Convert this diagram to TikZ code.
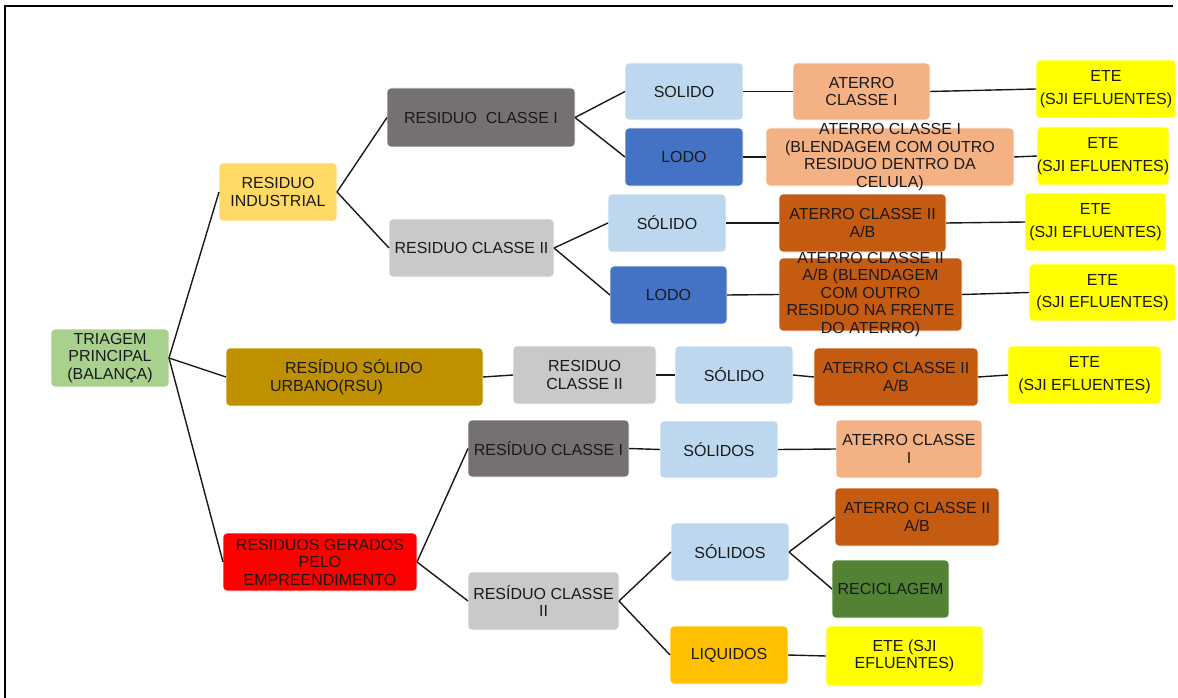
\documentclass[tikz,border=0pt]{standalone}
\usepackage{fontspec}
\setmainfont{Liberation Sans}
\definecolor{txtc}{HTML}{1A1A1A}
\definecolor{cTri}{HTML}{A9D18E}
\definecolor{cInd}{HTML}{FFD966}
\definecolor{cDark}{HTML}{767171}
\definecolor{cGrey}{HTML}{C9C9C9}
\definecolor{cSol}{HTML}{BDD7EE}
\definecolor{cLodo}{HTML}{4472C4}
\definecolor{cAtI}{HTML}{F4B183}
\definecolor{cAtII}{HTML}{C55A11}
\definecolor{cEte}{HTML}{FFFF00}
\definecolor{cRsu}{HTML}{BF9000}
\definecolor{cGer}{HTML}{FF0000}
\definecolor{cRec}{HTML}{548235}
\definecolor{cLiq}{HTML}{FFC000}
\tikzset{
 boxst/.style={rounded corners=4pt, inner sep=0pt, outer sep=0pt, draw=white, line width=0.6pt},
 txst/.style={font=\fontsize{16}{17.5}\selectfont, text=txtc, align=center, inner sep=0pt},
 lnst/.style={line width=1.4pt, draw=black!90},
}
\newcommand{\boxn}[7]{%
 \node[boxst, fill=#2, minimum width={#5pt-#3pt}, minimum height={#6pt-#4pt}] (#1) at ({(#3+#5)/2},{(#4+#6)/2}) {};
 \node[txst] (#1-t) at (#1) {#7};
}
\begin{document}
\begin{tikzpicture}[x=1pt,y=-1pt]
\useasboundingbox (0,0) rectangle (1178,698);
\draw[line width=1.2pt] (5,698) -- (5,6) -- (1173,6);

\boxn{TRI}{cTri}{51}{329}{169}{387}{TRIAGEM\\PRINCIPAL\\(BALANÇA)}
\boxn{IND}{cInd}{219}{163}{337}{221}{RESIDUO\\INDUSTRIAL}
\boxn{C1}{cDark}{387}{88}{575}{147}{RESIDUO\ \ CLASSE I}
\boxn{C2}{cGrey}{389}{219}{554}{277}{RESIDUO CLASSE II}
\boxn{SOL1}{cSol}{625}{63}{743}{120}{SOLIDO}
\boxn{LODO1}{cLodo}{625}{128}{743}{186}{LODO}
\boxn{AT1}{cAtI}{793}{63}{930}{120}{ATERRO\\CLASSE I}
\boxn{ATB1}{cAtI}{766}{128}{1014}{186}{ATERRO CLASSE I\\(BLENDAGEM COM OUTRO\\RESIDUO DENTRO DA\\CELULA)}
\boxn{ETE1}{cEte}{1036}{60}{1176}{118}{ETE\\[5pt](SJI EFLUENTES)}
\boxn{ETE2}{cEte}{1037}{127}{1169}{185}{ETE\\[5pt](SJI EFLUENTES)}
\boxn{SOL2}{cSol}{608}{194}{726}{252}{SÓLIDO}
\boxn{AT2}{cAtII}{779}{194}{946}{252}{ATERRO CLASSE II\\A/B}
\boxn{ETE3}{cEte}{1025}{193}{1166}{251}{ETE\\[5pt](SJI EFLUENTES)}
\boxn{LODO2}{cLodo}{610}{266}{727}{324}{LODO}
\boxn{ATB2}{cAtII}{779}{258}{962}{331}{ATERRO CLASSE II\\A/B (BLENDAGEM\\COM OUTRO\\RESIDUO NA FRENTE\\DO ATERRO)}
\boxn{ETE4}{cEte}{1029}{264}{1176}{321}{ETE\\[5pt](SJI EFLUENTES)}

\node[boxst, fill=cRsu, minimum width=257pt, minimum height=58pt] (RSU) at (354.5,377) {};
\node[txst, align=left] (RSU-t) at ([xshift=-8pt]RSU.center) {\hspace*{15pt}RESÍDUO SÓLIDO\\URBANO(RSU)};
\boxn{RC2}{cGrey}{513}{346}{656}{404}{RESIDUO\\CLASSE II}
\boxn{SOL3}{cSol}{675}{346}{793}{404}{SÓLIDO}
\boxn{AT3}{cAtII}{814}{348}{978}{406}{ATERRO CLASSE II\\A/B}
\boxn{ETE5}{cEte}{1008}{346}{1161}{404}{ETE\\[5pt](SJI EFLUENTES)}

\boxn{GER}{cGer}{223}{533}{417}{591}{RESIDUOS GERADOS\\PELO\\EMPREENDIMENTO}
\boxn{GC1}{cDark}{468}{420}{629}{477}{RESÍDUO CLASSE I}
\boxn{SOLS1}{cSol}{660}{421}{778}{478}{SÓLIDOS}
\boxn{AT4}{cAtI}{836}{420}{982}{478}{ATERRO CLASSE\\I}
\boxn{GC2}{cGrey}{468}{572}{619}{630}{RESÍDUO CLASSE\\II}
\boxn{SOLS2}{cSol}{671}{523}{789}{581}{SÓLIDOS}
\boxn{AT5}{cAtII}{835}{488}{999}{546}{ATERRO CLASSE II\\A/B}
\boxn{REC}{cRec}{832}{560}{949}{618}{RECICLAGEM}
\boxn{LIQ}{cLiq}{670}{626}{788}{684}{LIQUIDOS}
\boxn{ETE6}{cEte}{826}{626}{983}{686}{ETE (SJI\\EFLUENTES)}

\foreach \a/\b in {TRI/IND, TRI/RSU, TRI/GER, IND/C1, IND/C2, C1/SOL1, C1/LODO1,
  SOL1/AT1, AT1/ETE1, LODO1/ATB1, ATB1/ETE2, C2/SOL2, C2/LODO2, SOL2/AT2, AT2/ETE3,
  LODO2/ATB2, ATB2/ETE4, RSU/RC2, RC2/SOL3, SOL3/AT3, AT3/ETE5, GER/GC1, GER/GC2,
  GC1/SOLS1, SOLS1/AT4, GC2/SOLS2, GC2/LIQ, SOLS2/AT5, SOLS2/REC, LIQ/ETE6}
  \draw[lnst] (\a.east) -- (\b.west);
\end{tikzpicture}
\end{document}
